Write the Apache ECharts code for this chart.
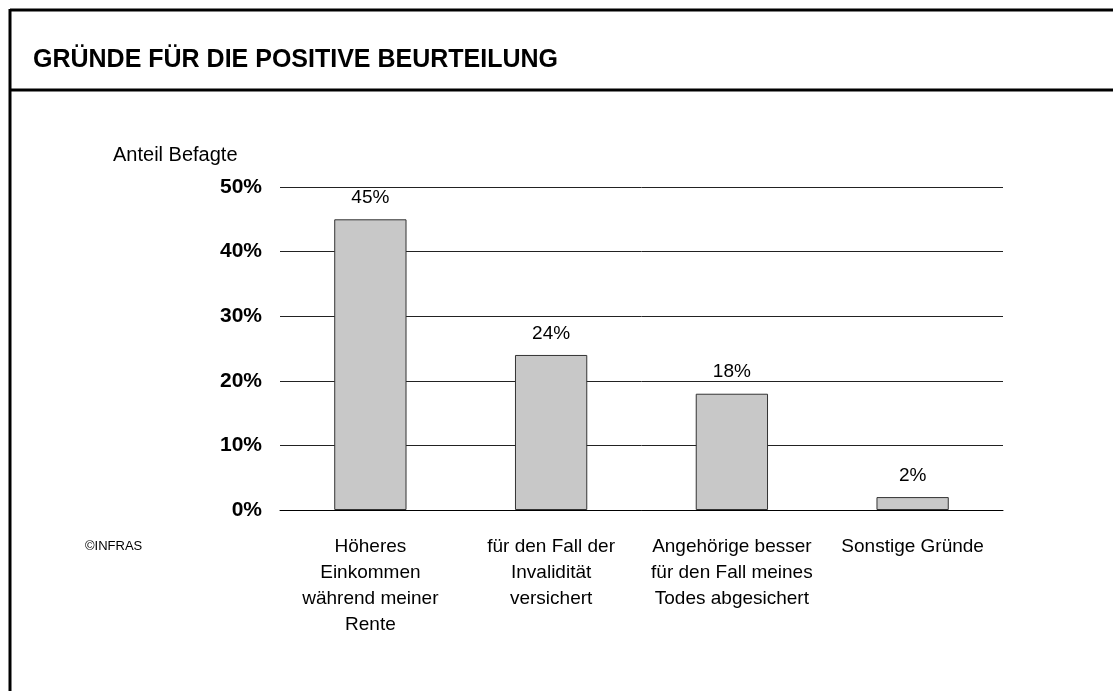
<!DOCTYPE html>
<html><head><meta charset="utf-8">
<script src="https://cdn.jsdelivr.net/npm/echarts@6/dist/echarts.min.js"></script>
<style>html,body{margin:0;padding:0;background:#fff}#c{width:1113px;height:691px}</style>
</head><body><div id="c"></div>
<script>
const categories = ['Höheres\nEinkommen\nwährend meiner\nRente', 'für den Fall der\nInvalidität\nversichert', 'Angehörige besser\nfür den Fall meines\nTodes abgesichert', 'Sonstige Gründe'];
const values = [45, 24, 18, 2];
const yTicks = [0, 10, 20, 30, 40, 50];

const chart = echarts.init(document.getElementById('c'));
chart.setOption({
  animation: false,
  backgroundColor: '#fff',
  graphic: [
    {type: 'line', shape: {x1: 10, y1: 10, x2: 1113, y2: 10}, style: {stroke: '#000', lineWidth: 3}},
    {type: 'line', shape: {x1: 10, y1: 9, x2: 10, y2: 691}, style: {stroke: '#000', lineWidth: 3}},
    {type: 'line', shape: {x1: 10, y1: 90, x2: 1113, y2: 90}, style: {stroke: '#000', lineWidth: 3}},
    {type: 'text', left: 33, top: 48, style: {text: 'GRÜNDE FÜR DIE POSITIVE BEURTEILUNG', font: 'bold 25px "Liberation Sans"', fill: '#000'}},
    {type: 'text', left: 113, top: 145, style: {text: 'Anteil Befagte', font: '20px "Liberation Sans"', fill: '#000'}},
    {type: 'text', left: 85, top: 540, style: {text: '©INFRAS', font: '13px "Liberation Sans Narrow", "Liberation Sans"', fill: '#000'}}
  ],
  grid: {left: 280, right: 110, top: 187, bottom: 181},
  xAxis: {
    type: 'category', data: categories,
    axisLine: {lineStyle: {color: '#000', width: 1}},
    axisTick: {show: false},
    axisLabel: {color: '#000', fontFamily: 'Liberation Sans', fontSize: 19, lineHeight: 26, margin: 24, interval: 0}
  },
  yAxis: {
    type: 'value', min: 0, max: 50, interval: 10,
    axisLine: {show: false}, axisTick: {show: false},
    splitLine: {lineStyle: {color: '#222', width: 1}},
    axisLabel: {color: '#000', fontFamily: 'Liberation Sans', fontWeight: 'bold', fontSize: 21, margin: 18,
      formatter: v => yTicks.includes(v) ? v + '%' : ''}
  },
  series: [{
    type: 'bar', data: values, barWidth: '40%',
    itemStyle: {color: '#c8c8c8', borderColor: '#333', borderWidth: 1},
    label: {show: true, position: 'top', formatter: p => p.value + '%', color: '#000', fontFamily: 'Liberation Sans', fontSize: 19, distance: 12}
  }]
});
</script></body></html>
